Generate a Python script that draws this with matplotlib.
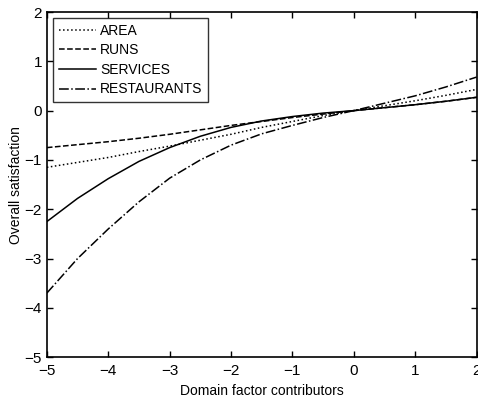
import matplotlib
matplotlib.use("Agg")
import matplotlib.pyplot as plt
import numpy as np

plt.rcParams['font.family'] = ['Liberation Sans', 'DejaVu Sans']

x_vals = [-5, -4.5, -4, -3.5, -3, -2.5, -2, -1.5, -1, -0.5, 0, 0.5, 1, 1.5, 2]
area = [-1.15, -1.05, -0.95, -0.83, -0.72, -0.6, -0.48, -0.34, -0.22, -0.1, 0.0, 0.1, 0.2, 0.31, 0.43]
runs = [-0.75, -0.69, -0.63, -0.56, -0.48, -0.39, -0.3, -0.22, -0.14, -0.07, 0.0, 0.06, 0.12, 0.19, 0.27]
services = [-2.25, -1.78, -1.38, -1.03, -0.75, -0.52, -0.34, -0.21, -0.12, -0.05, 0.0, 0.06, 0.12, 0.19, 0.27]
restaurants = [-3.7, -3.0, -2.4, -1.85, -1.37, -1.0, -0.7, -0.47, -0.3, -0.14, 0.0, 0.15, 0.3, 0.48, 0.68]

series_names = ['AREA', 'RUNS', 'SERVICES', 'RESTAURANTS']
series_vals = [area, runs, services, restaurants]
styles = [':', '--', '-', '-.']

x_ticks = [-5, -4, -3, -2, -1, 0, 1, 2]
y_ticks = [-5, -4, -3, -2, -1, 0, 1, 2]

fig = plt.figure(figsize=(4.78, 4.0), dpi=100)
ax = fig.add_axes([0.098, 0.107, 0.899, 0.863])

for name, vals, ls in zip(series_names, series_vals, styles):
    ax.plot(x_vals, vals, color='black', linestyle=ls, linewidth=1.1, label=name)

ax.set_xlim(-5, 2)
ax.set_ylim(-5, 2)
ax.set_xticks(x_ticks)
ax.set_yticks(y_ticks)
ax.set_xticklabels([f"{t}".replace('-', '\u2212') for t in x_ticks])
ax.set_yticklabels([f"{t}".replace('-', '\u2212') for t in y_ticks])
ax.tick_params(direction='in', top=True, right=True, length=4, labelsize=11, width=1)
ax.tick_params(axis='x', pad=5)
for s in ax.spines.values():
    s.set_linewidth(1.2)

ax.set_xlabel('Domain factor contributors', fontsize=10, labelpad=4)
ax.set_ylabel('Overall satisfaction', fontsize=10, labelpad=1)

leg = ax.legend(loc='upper left', frameon=True, fancybox=False, edgecolor='black',
                fontsize=10, handlelength=2.7, borderaxespad=0.45, labelspacing=0.4,
                handletextpad=0.3, borderpad=0.4)
leg.get_frame().set_linewidth(1.0)

fig.savefig('out.png', dpi=100)
